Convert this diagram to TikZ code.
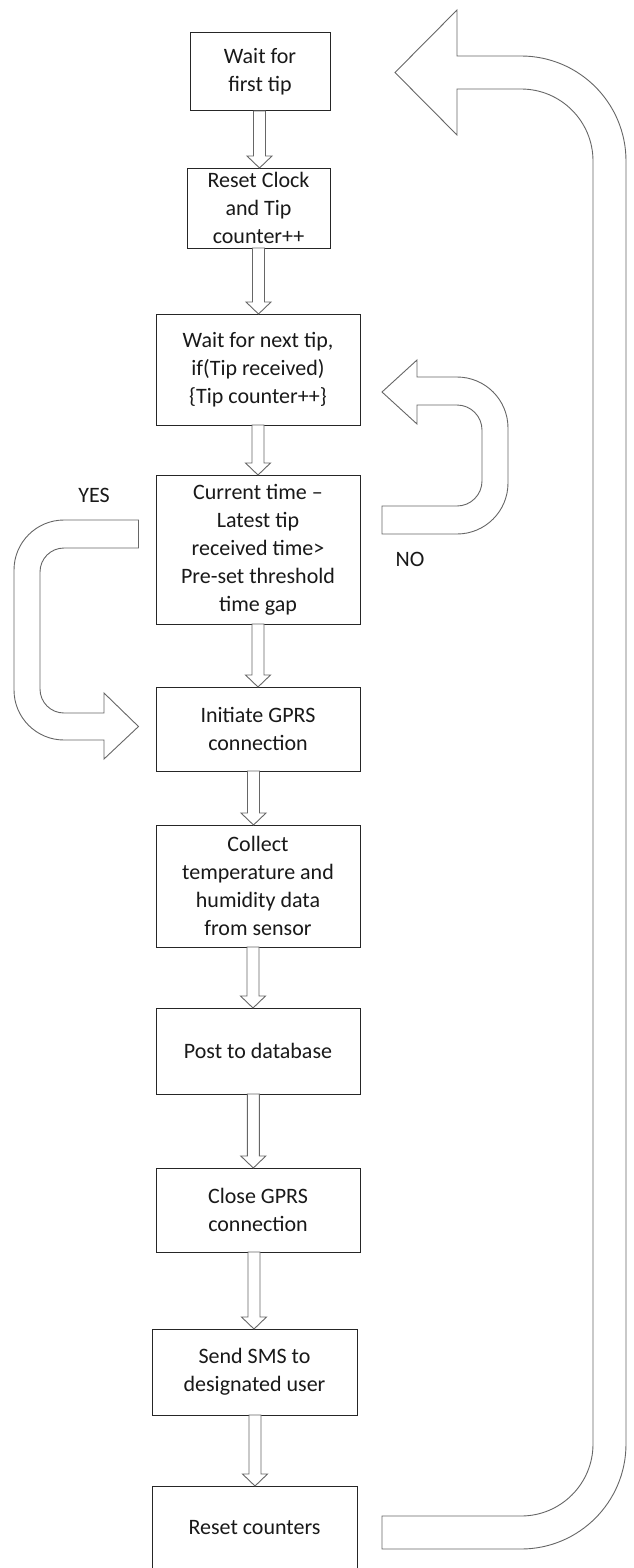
\documentclass[tikz,border=0pt]{standalone}
\usepackage{fontspec}
\setmainfont{Carlito}
\usetikzlibrary{calc}
\tikzset{
  box/.style={draw=black!85, line width=1pt, fill=white, align=center, inner sep=0pt, outer sep=0pt,
    font=\fontsize{22}{28}\selectfont, text=black!90},
  barrow/.style={draw=black!60, line width=0.9pt, fill=white, line join=miter},
  lbl/.style={font=\fontsize{22}{28}\selectfont, inner sep=0pt, text=black!90}
}
\newcommand\blkdown[3][0]{%
  \draw[barrow] let \p1=($(#2.south)+(#1,0)$), \p2=(#3.north) in
    (\x1-6pt,\y1) -- (\x1+6pt,\y1) -- (\x1+6pt,\y2+12pt) -- (\x1+12.5pt,\y2+12pt)
    -- (\x1,\y2) -- (\x1-12.5pt,\y2+12pt) -- (\x1-6pt,\y2+12pt) -- cycle;}
\begin{document}
\begin{tikzpicture}[x=1pt,y=-1pt]
\useasboundingbox (0,0) rectangle (633,1568);

\node[box, minimum width=140pt, minimum height=78pt] (b1) at (260,72) {Wait for\\first tip};
\node[box, minimum width=143pt, minimum height=80pt] (b2) at (258.5,208) {Reset Clock\\and Tip\\counter++};
\node[box, minimum width=204pt, minimum height=111pt] (b3) at (258,369.5) {Wait for next tip,\\if(Tip received)\\\{Tip counter++\}};
\node[box, minimum width=204pt, minimum height=149pt] (b4) at (258,549.5) {Current time --\\Latest tip\\received time>\\Pre-set threshold\\time gap};
\node[box, minimum width=204pt, minimum height=84pt] (b5) at (258,729) {Initiate GPRS\\connection};
\node[box, minimum width=204pt, minimum height=122pt] (b6) at (258,886) {Collect\\temperature and\\humidity data\\from sensor};
\node[box, minimum width=204pt, minimum height=86pt] (b7) at (258,1051) {Post to database};
\node[box, minimum width=204pt, minimum height=84pt] (b8) at (258,1210) {Close GPRS\\connection};
\node[box, minimum width=205pt, minimum height=86pt] (b9) at (254.5,1372) {Send SMS to\\designated user};
\node[box, minimum width=205pt, minimum height=84pt] (b10) at (254.5,1528) {Reset counters};

\node[lbl] (yes) at (94,495) {YES};
\node[lbl] (no) at (410,559) {NO};

\blkdown[-0.5]{b1}{b2}
\blkdown{b2}{b3}
\blkdown{b3}{b4}
\blkdown{b4}{b5}
\blkdown[-4.5]{b5}{b6}
\blkdown[-5]{b6}{b7}
\blkdown[-4.7]{b7}{b8}
\blkdown[-4]{b8}{b9}
\blkdown[0.5]{b9}{b10}

% NO loop arrow: from decision back to wait-for-next-tip
\begin{scope}[shift={($(b4.east)-(360,549.5)$)}]
\draw[barrow] (382,506) -- (457,506) .. controls (470.8,506) and (482,494.8) .. (482,481)
  -- (482,430) .. controls (482,416.2) and (470.8,405) .. (457,405)
  -- (417,405) -- (417,424) -- (382,392) -- (417,360) -- (417,377)
  -- (457,377) .. controls (485.2,377) and (508,399.8) .. (508,428)
  -- (508,483) .. controls (508,511.2) and (485.2,534) .. (457,534)
  -- (382,534) -- cycle;
\end{scope}

% YES arrow: from decision to initiate GPRS
\begin{scope}[shift={($(b4.west)-(156,549.5)$)}]
\draw[barrow] (138.5,520) -- (64,520) .. controls (36.4,520) and (14,542.4) .. (14,570)
  -- (14,690) .. controls (14,717.6) and (36.4,740) .. (64,740)
  -- (104,740) -- (104,759) -- (138.5,726.5) -- (104,693) -- (104,713)
  -- (64,713) .. controls (50.7,713) and (40,702.3) .. (40,689)
  -- (40,572) .. controls (40,558.7) and (50.7,548) .. (64,548)
  -- (138.5,548) -- cycle;
\end{scope}

% big return arrow: from reset counters back to wait for first tip
\begin{scope}[shift={($(b10.east)-(357,1528)$)}]
\draw[barrow] (382,1516) -- (521,1516) .. controls (560.8,1516) and (593,1483.8) .. (593,1444)
  -- (593,161) .. controls (593,121.2) and (560.8,89) .. (521,89)
  -- (457,89) -- (457,135) -- (395,72.5) -- (457,10) -- (457,56)
  -- (521,56) .. controls (579,56) and (626,103) .. (626,161)
  -- (626,1444) .. controls (626,1502) and (579,1549) .. (521,1549)
  -- (382,1549) -- cycle;
\end{scope}
\end{tikzpicture}
\end{document}
